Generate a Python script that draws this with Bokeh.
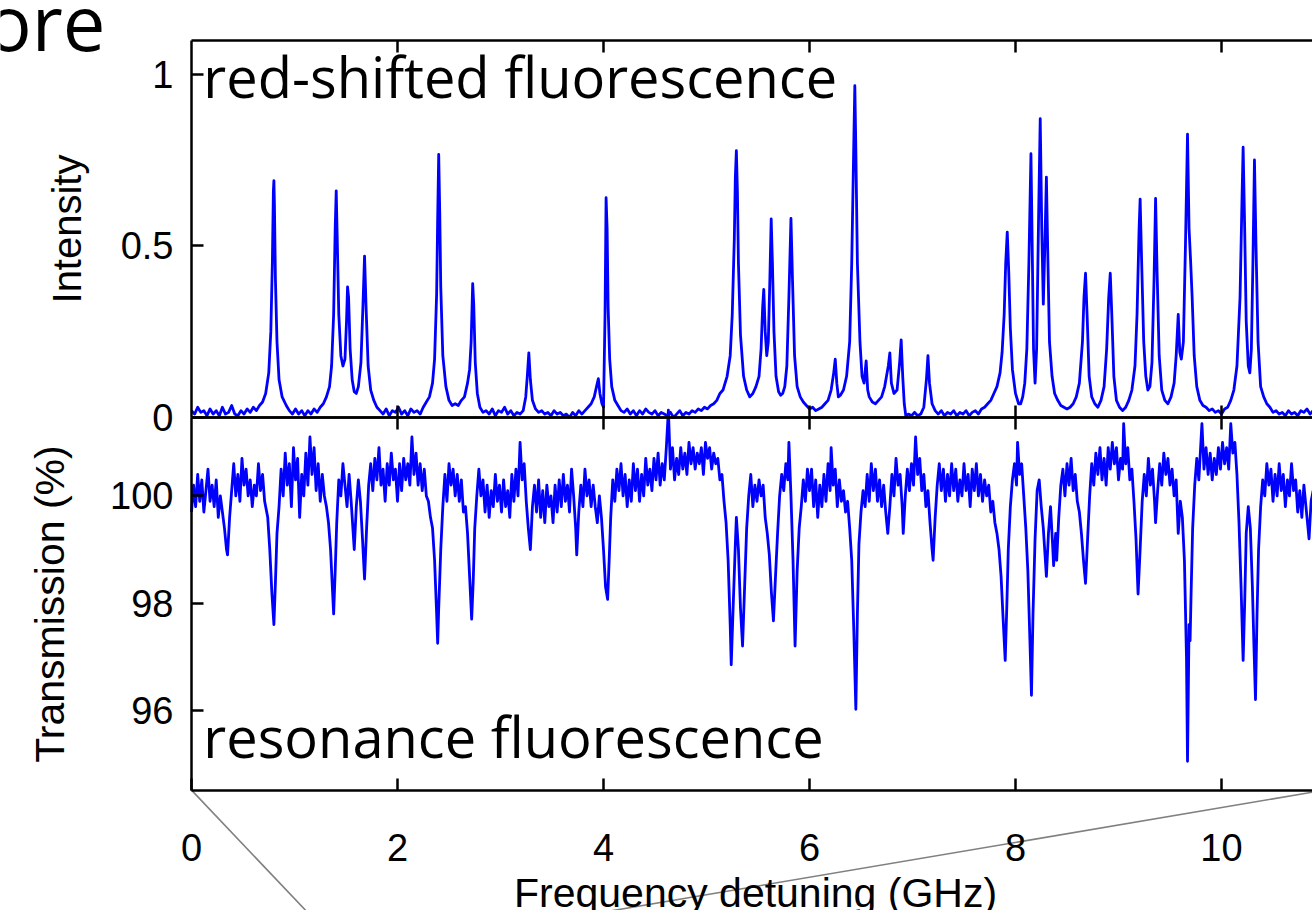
from bokeh.plotting import figure
from bokeh.models import ColumnDataSource, Range1d, LinearAxis, FixedTicker, Label
from bokeh.embed import file_html
from bokeh.resources import INLINE

# ---------------- data ----------------
# red-shifted fluorescence: (frequency detuning GHz, intensity)
redshift_trace = [
    (0.00, .02), (0.03, .01), (0.06, .03), (0.09, .015), (0.12, .02), (0.15, .005), (0.18, .025),
    (0.21, .01), (0.24, .02), (0.27, .005), (0.30, .03), (0.33, .01), (0.36, .015), (0.39, .035),
    (0.42, .01), (0.45, .005), (0.48, .02), (0.51, .01), (0.54, .025), (0.57, .015), (0.60, .03),
    (0.63, .02), (0.66, .035), (0.69, .045),
    (0.72, .07), (0.75, .13), (0.77, .25), (0.785, .45), (0.795, .66), (0.80, .69), (0.805, .62),
    (0.815, .40), (0.83, .22), (0.85, .11), (0.88, .06), (0.92, .035), (0.95, .02),
    (0.98, .01), (1.01, .025), (1.04, .01), (1.07, .02), (1.10, .005), (1.13, .02), (1.16, .01),
    (1.19, .025), (1.22, .015), (1.25, .03), (1.28, .04),
    (1.31, .06), (1.34, .09), (1.36, .15), (1.38, .30), (1.395, .55), (1.405, .66), (1.415, .52),
    (1.43, .30), (1.45, .18), (1.47, .15), (1.49, .17), (1.505, .28), (1.515, .38), (1.525, .35),
    (1.54, .20), (1.56, .11), (1.58, .075), (1.60, .07), (1.62, .09), (1.645, .16), (1.665, .33),
    (1.68, .47), (1.695, .32), (1.715, .15), (1.74, .08), (1.77, .05), (1.80, .03), (1.83, .02),
    (1.86, .01), (1.89, .025), (1.92, .005), (1.95, .02), (1.98, .015), (2.01, .03), (2.04, .01),
    (2.07, .02), (2.10, .005), (2.13, .025), (2.16, .015), (2.19, .02), (2.22, .01), (2.25, .03),
    (2.28, .045),
    (2.31, .06), (2.34, .10), (2.36, .17), (2.38, .36), (2.39, .58), (2.40, .766), (2.41, .60),
    (2.42, .38), (2.44, .18), (2.47, .09), (2.50, .05), (2.53, .035), (2.56, .04), (2.59, .035),
    (2.62, .05), (2.65, .06), (2.68, .10),
    (2.70, .14), (2.715, .22), (2.73, .39), (2.74, .33), (2.755, .16), (2.775, .07), (2.80, .03),
    (2.83, .015),
    (2.86, .02), (2.89, .01), (2.92, .025), (2.95, .005), (2.98, .02), (3.01, .015), (3.04, .03),
    (3.07, .01), (3.10, .02), (3.13, .005), (3.16, .015), (3.19, .01), (3.22, .02), (3.245, .06),
    (3.26, .12), (3.275, .188), (3.29, .11), (3.31, .05), (3.34, .025), (3.37, .015),
    (3.40, .02), (3.43, .01), (3.46, .015), (3.49, .005), (3.52, .02), (3.55, .01), (3.58, .015),
    (3.61, .005), (3.64, .01), (3.67, .0), (3.70, .015), (3.73, .005), (3.76, .02), (3.79, .01),
    (3.82, .02), (3.85, .03), (3.88, .04), (3.91, .06),
    (3.94, .10), (3.95, .113), (3.965, .07), (3.985, .04), (4.00, .03), (4.015, .30), (4.025, .64),
    (4.035, .55), (4.045, .32), (4.06, .17), (4.08, .09), (4.11, .05), (4.14, .035), (4.17, .02),
    (4.20, .015), (4.23, .025), (4.26, .01), (4.29, .02), (4.32, .005), (4.35, .02), (4.38, .01),
    (4.41, .025), (4.44, .015), (4.47, .01), (4.50, .02), (4.53, .005), (4.56, .015), (4.59, .01),
    (4.62, .005), (4.65, .015), (4.68, .0), (4.71, .01), (4.74, .02), (4.77, .005), (4.80, .015),
    (4.83, .01), (4.86, .02), (4.89, .015), (4.92, .025), (4.95, .02), (4.98, .03), (5.01, .025),
    (5.04, .035), (5.07, .04), (5.10, .05), (5.13, .07),
    (5.16, .08), (5.20, .12), (5.23, .18), (5.25, .30), (5.27, .52), (5.28, .70), (5.29, .777),
    (5.30, .66), (5.31, .45), (5.33, .24), (5.36, .12), (5.39, .08), (5.42, .06), (5.45, .07),
    (5.48, .09), (5.51, .12),
    (5.53, .20), (5.545, .32), (5.556, .373), (5.57, .25), (5.585, .18), (5.60, .22), (5.615, .40),
    (5.628, .578), (5.64, .45), (5.655, .25), (5.675, .12), (5.70, .075), (5.72, .065), (5.74, .07),
    (5.76, .09), (5.78, .15), (5.80, .35), (5.82, .58), (5.835, .40), (5.855, .18), (5.88, .09),
    (5.91, .06), (5.94, .045), (5.97, .035), (6.00, .025), (6.03, .03), (6.06, .02), (6.09, .025),
    (6.12, .03), (6.15, .04), (6.18, .05), (6.21, .08),
    (6.235, .13), (6.25, .17), (6.265, .10), (6.28, .06), (6.30, .065), (6.33, .08), (6.36, .12),
    (6.39, .22), (6.41, .45), (6.43, .80), (6.44, .966), (6.45, .78), (6.465, .45), (6.49, .22),
    (6.51, .12), (6.53, .10), (6.55, .165), (6.565, .08), (6.58, .06), (6.61, .045), (6.64, .04),
    (6.67, .05), (6.70, .06), (6.73, .09), (6.765, .15), (6.78, .188), (6.795, .10), (6.82, .07),
    (6.85, .08), (6.875, .16), (6.89, .226), (6.905, .12), (6.92, .04), (6.935, .005), (6.96, .01),
    (6.99, .005), (7.02, .015), (7.05, .005), (7.08, .01), (7.11, .03), (7.135, .11), (7.15, .18),
    (7.165, .10), (7.19, .04), (7.22, .02),
    (7.25, .01), (7.28, .02), (7.31, .005), (7.34, .015), (7.37, .01), (7.40, .02), (7.43, .005),
    (7.46, .015), (7.49, .01), (7.52, .02), (7.55, .005), (7.58, .015), (7.61, .02), (7.64, .01),
    (7.67, .025), (7.70, .03), (7.73, .04), (7.76, .05), (7.79, .07),
    (7.82, .09), (7.85, .13), (7.87, .19), (7.89, .30), (7.905, .45), (7.92, .54), (7.935, .42),
    (7.95, .26), (7.97, .14), (8.00, .07), (8.03, .04), (8.05, .04), (8.07, .06), (8.09, .10),
    (8.11, .20), (8.13, .45), (8.15, .768), (8.16, .55), (8.175, .20), (8.19, .10), (8.205, .20),
    (8.225, .60), (8.24, .87), (8.255, .55), (8.27, .33), (8.285, .50), (8.30, .70), (8.315, .45),
    (8.33, .22), (8.355, .12), (8.38, .07), (8.41, .05), (8.44, .035), (8.47, .03), (8.50, .025),
    (8.53, .03), (8.56, .04), (8.59, .06), (8.62, .10), (8.65, .22), (8.665, .35), (8.68, .42),
    (8.695, .30), (8.715, .12), (8.74, .06), (8.77, .04), (8.80, .03), (8.83, .05), (8.86, .09),
    (8.885, .20), (8.905, .35), (8.92, .42), (8.935, .30), (8.955, .12), (8.98, .05), (9.01, .03),
    (9.04, .02), (9.07, .03), (9.10, .05), (9.13, .08), (9.16, .15), (9.18, .30), (9.20, .55),
    (9.21, .636), (9.225, .45), (9.245, .22), (9.265, .12), (9.285, .08), (9.305, .09), (9.325, .16),
    (9.345, .40), (9.36, .638), (9.375, .42), (9.395, .18), (9.42, .08), (9.45, .05), (9.48, .04),
    (9.51, .06), (9.54, .10), (9.56, .18), (9.58, .30), (9.595, .19), (9.61, .17), (9.63, .22),
    (9.65, .50), (9.67, .825), (9.685, .55), (9.70, .456), (9.715, .35), (9.735, .18), (9.76, .09),
    (9.79, .05), (9.82, .035), (9.85, .03), (9.88, .02), (9.91, .025), (9.94, .015), (9.97, .02),
    (10.00, .01), (10.03, .025), (10.06, .03), (10.09, .05), (10.12, .08), (10.15, .15), (10.18, .35),
    (10.20, .65), (10.21, .787), (10.225, .55), (10.24, .28), (10.26, .15), (10.275, .13), (10.29, .20),
    (10.305, .45), (10.32, .75), (10.335, .50), (10.355, .22), (10.38, .09), (10.41, .06), (10.44, .04),
    (10.47, .03), (10.50, .015), (10.53, .02), (10.56, .01), (10.59, .015), (10.62, .005), (10.65, .02),
    (10.68, .01), (10.71, .015), (10.74, .005), (10.77, .02), (10.80, .015), (10.83, .025), (10.86, .01),
    (10.89, .02),
]

# resonance fluorescence: (frequency detuning GHz, transmission %)
transmission_trace = [
    (0.00, 99.7), (0.02, 100.2), (0.04, 99.8), (0.06, 100.4), (0.08, 99.9), (0.10, 100.3), (0.12, 99.7),
    (0.14, 100.1), (0.16, 100.5), (0.18, 99.9), (0.20, 100.2), (0.22, 99.8), (0.24, 100.3), (0.26, 99.6),
    (0.28, 100.0), (0.30, 99.7), (0.32, 99.4), (0.34, 99.0), (0.35, 98.9), (0.37, 99.6), (0.39, 100.1),
    (0.41, 100.6), (0.43, 100.0), (0.45, 100.4), (0.47, 99.9), (0.49, 100.7), (0.51, 100.2), (0.53, 100.5),
    (0.55, 100.0), (0.57, 100.3), (0.59, 99.8), (0.61, 100.2), (0.63, 100.0), (0.65, 100.6), (0.67, 100.1),
    (0.69, 100.4), (0.71, 99.9), (0.74, 99.6), (0.76, 99.0), (0.78, 98.2), (0.80, 97.6), (0.815, 98.4),
    (0.83, 99.3), (0.85, 99.8), (0.87, 100.5), (0.89, 100.0), (0.91, 100.8), (0.93, 100.2), (0.95, 100.6),
    (0.97, 99.8), (0.99, 100.9), (1.01, 100.3), (1.03, 100.7), (1.05, 99.6), (1.07, 100.4), (1.09, 100.0),
    (1.11, 100.8), (1.13, 100.2), (1.15, 101.1), (1.17, 100.4), (1.19, 100.9), (1.21, 100.1), (1.23, 100.6),
    (1.25, 99.9), (1.27, 100.4), (1.29, 100.0), (1.31, 99.8), (1.33, 99.5), (1.35, 99.0), (1.37, 98.2),
    (1.38, 97.8), (1.395, 98.6), (1.41, 99.5), (1.43, 100.3), (1.45, 100.0), (1.47, 100.6), (1.49, 100.2),
    (1.51, 99.8), (1.53, 100.4), (1.55, 99.9), (1.57, 99.3), (1.58, 99.0), (1.60, 99.8), (1.62, 100.3),
    (1.64, 99.9), (1.66, 99.2), (1.68, 98.45), (1.70, 99.4), (1.72, 100.2), (1.74, 100.6), (1.76, 100.1),
    (1.78, 100.7), (1.80, 100.3), (1.82, 100.9), (1.84, 100.2), (1.86, 100.5), (1.88, 99.9), (1.90, 100.6),
    (1.92, 100.2), (1.94, 100.8), (1.96, 100.3), (1.98, 100.5), (2.00, 99.9), (2.02, 100.6), (2.04, 100.1),
    (2.06, 100.7), (2.08, 100.3), (2.10, 100.6), (2.12, 100.2), (2.14, 101.1), (2.16, 100.4), (2.18, 100.8),
    (2.20, 100.2), (2.22, 100.6), (2.24, 100.1), (2.26, 100.5), (2.28, 100.0), (2.30, 99.9), (2.32, 99.6),
    (2.34, 99.4), (2.36, 98.8), (2.38, 97.8), (2.39, 97.25), (2.40, 97.9), (2.42, 99.0), (2.44, 99.8),
    (2.46, 100.4), (2.48, 99.9), (2.50, 100.6), (2.52, 100.2), (2.54, 100.5), (2.56, 100.0), (2.58, 100.4),
    (2.60, 99.9), (2.62, 100.3), (2.64, 99.7), (2.66, 99.8), (2.68, 99.3), (2.70, 98.5), (2.72, 97.7),
    (2.735, 98.4), (2.75, 99.4), (2.77, 100.0), (2.79, 100.5), (2.81, 100.0), (2.83, 100.3), (2.85, 99.7),
    (2.87, 100.2), (2.89, 99.6), (2.91, 100.1), (2.93, 99.8), (2.95, 100.4), (2.97, 99.9), (2.99, 100.2),
    (3.01, 99.7), (3.03, 100.3), (3.05, 99.8), (3.07, 100.1), (3.09, 99.6), (3.11, 100.4), (3.13, 99.9),
    (3.15, 100.5), (3.17, 100.0), (3.19, 101.0), (3.21, 100.3), (3.23, 100.6), (3.25, 99.9), (3.27, 99.4),
    (3.29, 99.0), (3.31, 99.8), (3.33, 100.2), (3.35, 99.7), (3.37, 100.3), (3.39, 99.6), (3.41, 100.1),
    (3.43, 99.5), (3.45, 100.2), (3.47, 99.8), (3.49, 100.0), (3.51, 99.5), (3.53, 100.2), (3.55, 99.7),
    (3.57, 100.3), (3.59, 99.8), (3.61, 100.4), (3.63, 99.9), (3.65, 100.2), (3.67, 99.7), (3.69, 100.5),
    (3.71, 100.0), (3.73, 99.4), (3.74, 98.9), (3.76, 99.7), (3.78, 100.2), (3.80, 99.8), (3.82, 100.5),
    (3.84, 100.0), (3.86, 100.3), (3.88, 99.8), (3.90, 100.2), (3.92, 99.8), (3.94, 99.5), (3.96, 100.0),
    (3.98, 99.6), (4.00, 99.0), (4.02, 98.3), (4.04, 98.07), (4.055, 98.8), (4.07, 99.6), (4.09, 100.3),
    (4.11, 99.9), (4.13, 100.5), (4.15, 100.1), (4.17, 100.6), (4.19, 100.0), (4.21, 100.4), (4.23, 99.8),
    (4.25, 100.3), (4.27, 99.9), (4.29, 100.6), (4.31, 100.1), (4.33, 100.5), (4.35, 99.9), (4.37, 100.4),
    (4.39, 100.0), (4.41, 100.7), (4.43, 100.2), (4.45, 100.5), (4.47, 100.1), (4.49, 100.7), (4.51, 100.3),
    (4.53, 100.8), (4.55, 100.2), (4.57, 100.6), (4.59, 100.3), (4.61, 100.9), (4.63, 101.6), (4.65, 100.5),
    (4.67, 100.9), (4.69, 100.3), (4.71, 100.7), (4.73, 100.4), (4.75, 100.9), (4.77, 100.5), (4.79, 100.8),
    (4.81, 100.4), (4.83, 101.0), (4.85, 100.6), (4.87, 100.9), (4.89, 100.5), (4.91, 100.8), (4.93, 100.6),
    (4.95, 100.9), (4.97, 100.4), (4.99, 101.0), (5.01, 100.7), (5.03, 100.9), (5.05, 100.5), (5.07, 100.8),
    (5.09, 100.6), (5.11, 100.7), (5.13, 100.3), (5.15, 100.4), (5.17, 99.9), (5.19, 99.5), (5.21, 98.8),
    (5.23, 97.6), (5.24, 96.85), (5.26, 98.0), (5.28, 99.1), (5.29, 99.6), (5.31, 99.0), (5.33, 97.9),
    (5.35, 97.2), (5.37, 98.3), (5.39, 99.4), (5.41, 100.0), (5.43, 100.4), (5.45, 99.8), (5.47, 100.2),
    (5.49, 99.9), (5.51, 100.3), (5.53, 100.0), (5.55, 100.2), (5.57, 99.6), (5.59, 99.3), (5.61, 98.9),
    (5.63, 98.2), (5.65, 97.67), (5.67, 98.5), (5.69, 99.3), (5.71, 100.0), (5.73, 100.4), (5.75, 100.1),
    (5.77, 100.6), (5.79, 100.3), (5.80, 101.0), (5.82, 100.0), (5.84, 98.8), (5.86, 97.2), (5.88, 98.6),
    (5.90, 99.4), (5.92, 99.8), (5.94, 100.3), (5.96, 99.9), (5.98, 100.5), (6.00, 100.1), (6.02, 100.5),
    (6.04, 99.8), (6.06, 100.3), (6.08, 99.6), (6.10, 100.2), (6.12, 99.8), (6.14, 100.4), (6.16, 99.9),
    (6.18, 100.6), (6.20, 100.1), (6.21, 100.9), (6.23, 100.2), (6.25, 100.5), (6.27, 99.8), (6.29, 100.3),
    (6.31, 99.9), (6.33, 100.1), (6.35, 99.7), (6.37, 99.9), (6.39, 99.4), (6.41, 98.8), (6.43, 97.5),
    (6.45, 96.02), (6.465, 97.8), (6.48, 99.1), (6.50, 99.7), (6.52, 100.1), (6.54, 99.8), (6.56, 100.4),
    (6.58, 99.9), (6.60, 100.6), (6.62, 100.1), (6.64, 100.5), (6.66, 99.9), (6.68, 100.3), (6.70, 99.8),
    (6.72, 100.2), (6.74, 99.7), (6.76, 99.3), (6.78, 99.8), (6.80, 100.4), (6.82, 100.0), (6.84, 100.7),
    (6.86, 100.2), (6.88, 100.4), (6.90, 99.8), (6.91, 99.3), (6.93, 100.0), (6.95, 100.5), (6.97, 100.1),
    (6.99, 100.6), (7.01, 100.2), (7.03, 101.1), (7.05, 100.4), (7.07, 100.7), (7.09, 100.1), (7.11, 100.4),
    (7.13, 99.8), (7.15, 100.1), (7.17, 99.5), (7.19, 99.0), (7.20, 98.8), (7.22, 99.6), (7.24, 100.2),
    (7.26, 100.6), (7.28, 100.1), (7.30, 100.5), (7.32, 99.9), (7.34, 100.4), (7.36, 100.0), (7.38, 100.6),
    (7.40, 100.1), (7.42, 100.5), (7.44, 99.9), (7.46, 100.3), (7.48, 100.0), (7.50, 100.6), (7.52, 100.1),
    (7.54, 100.4), (7.56, 99.8), (7.58, 100.5), (7.60, 100.1), (7.62, 100.6), (7.64, 100.0), (7.66, 100.4),
    (7.68, 99.9), (7.70, 100.3), (7.72, 100.0), (7.74, 100.2), (7.76, 99.7), (7.78, 99.9), (7.80, 99.5),
    (7.82, 99.3), (7.84, 99.0), (7.86, 98.5), (7.88, 97.7), (7.90, 96.93), (7.915, 97.9), (7.93, 99.0),
    (7.95, 99.8), (7.97, 100.3), (7.99, 100.6), (8.01, 100.2), (8.02, 101.0), (8.04, 100.4), (8.06, 100.6),
    (8.08, 100.0), (8.10, 99.4), (8.12, 98.6), (8.14, 97.3), (8.155, 96.28), (8.17, 97.8), (8.19, 99.2),
    (8.21, 100.1), (8.23, 100.3), (8.25, 99.8), (8.27, 99.4), (8.29, 98.8), (8.30, 98.5), (8.32, 99.3),
    (8.34, 99.8), (8.36, 99.1), (8.37, 98.7), (8.39, 99.3), (8.40, 98.8), (8.42, 99.6), (8.44, 100.2),
    (8.46, 100.5), (8.48, 100.0), (8.50, 100.6), (8.52, 100.2), (8.54, 100.7), (8.56, 100.1), (8.58, 100.4),
    (8.60, 99.9), (8.62, 99.7), (8.64, 99.3), (8.66, 98.8), (8.68, 98.37), (8.70, 99.2), (8.72, 100.0),
    (8.74, 100.6), (8.76, 100.2), (8.78, 100.8), (8.80, 100.4), (8.82, 100.9), (8.84, 100.3), (8.86, 100.7),
    (8.88, 100.2), (8.90, 100.9), (8.92, 100.5), (8.94, 101.0), (8.96, 100.6), (8.98, 100.9), (9.00, 100.3),
    (9.02, 100.7), (9.04, 100.5), (9.05, 101.35), (9.07, 100.6), (9.09, 100.9), (9.11, 100.3), (9.13, 100.5),
    (9.15, 99.9), (9.17, 99.2), (9.19, 98.17), (9.21, 99.0), (9.23, 99.9), (9.25, 100.4), (9.27, 100.0),
    (9.29, 100.7), (9.31, 100.2), (9.33, 100.5), (9.35, 99.9), (9.36, 99.5), (9.38, 100.1), (9.40, 100.6),
    (9.42, 100.2), (9.44, 100.8), (9.46, 100.4), (9.48, 100.7), (9.50, 100.2), (9.52, 100.5), (9.54, 100.0),
    (9.56, 100.3), (9.58, 99.3), (9.60, 99.9), (9.62, 99.6), (9.64, 98.8), (9.66, 97.0), (9.67, 95.05),
    (9.685, 97.6), (9.695, 97.3), (9.705, 98.2), (9.72, 99.4), (9.74, 100.2), (9.76, 100.7), (9.78, 100.3),
    (9.80, 101.0), (9.81, 101.35), (9.83, 100.5), (9.85, 100.9), (9.87, 100.4), (9.89, 100.8), (9.91, 100.3),
    (9.93, 100.7), (9.95, 100.4), (9.97, 100.9), (9.99, 100.5), (10.01, 101.0), (10.03, 100.6), (10.05, 100.9),
    (10.07, 100.5), (10.09, 101.35), (10.11, 100.8), (10.13, 101.0), (10.15, 100.4), (10.17, 99.5),
    (10.19, 98.3), (10.21, 96.93), (10.225, 98.0), (10.24, 99.3), (10.26, 99.8), (10.28, 99.4), (10.30, 98.3),
    (10.315, 97.2), (10.33, 96.2), (10.345, 97.8), (10.36, 99.0), (10.38, 99.8), (10.40, 100.3), (10.42, 100.0),
    (10.44, 100.6), (10.46, 100.2), (10.48, 100.5), (10.50, 99.9), (10.52, 100.4), (10.54, 100.0), (10.56, 100.6),
    (10.58, 100.1), (10.60, 100.4), (10.62, 99.8), (10.64, 100.3), (10.66, 100.0), (10.68, 100.6), (10.70, 100.1),
    (10.72, 100.3), (10.74, 99.7), (10.76, 100.1), (10.78, 99.6), (10.80, 100.2), (10.82, 99.8), (10.84, 99.4),
    (10.85, 99.2), (10.87, 99.9), (10.89, 100.1),
]

x_ticks = [0, 2, 4, 6, 8, 10]
intensity_ticks = [0, 0.5, 1]
transmission_ticks = [96, 98, 100]

# zoom guide lines (GHz, %) from the lower frame corners down out of the picture
guide_left = [(0.0, 94.51), (1.29, 91.9)]
guide_right = [(11.0, 94.51), (2.97, 91.9)]

# ---------------- panel extents (data units) ----------------
X_VIEW = (-1.8544, 10.8835)        # whole canvas width, axis at 0
T_VIEW = (92.265, 109.243)         # whole canvas height in transmission units
I_VIEW = (-1.4356, 1.2143)         # whole canvas height in intensity units
X_PANEL = (0, 11)
T_PANEL = (94.51, 101.47)          # lower panel
I_PANEL = (0, 1.098)               # upper panel
TOP_EDGE_T = 108.496               # upper frame edge expressed in transmission units

TICK_FONT = "Liberation Sans"
TEXT_FONT = "Open Sans"
BLUE = "#0000ff"

p = figure(width=1312, height=910, x_range=Range1d(*X_VIEW), y_range=Range1d(*T_VIEW),
           output_backend="svg", toolbar_location=None,
           x_axis_location=None, y_axis_location=None,
           min_border=0, min_border_left=0, min_border_right=0, min_border_top=0, min_border_bottom=0)
p.extra_y_ranges = {"int": Range1d(*I_VIEW)}
p.outline_line_color = None
p.xgrid.visible = False
p.ygrid.visible = False
p.background_fill_color = "white"
p.border_fill_color = "white"


def make_axis(show_labels, **kw):
    ax = LinearAxis(**kw)
    ax.axis_line_width = 2.5
    ax.axis_line_color = "black"
    ax.major_tick_line_width = 2.5
    ax.major_tick_line_color = "black"
    ax.major_tick_in = 12
    ax.major_tick_out = 0
    ax.minor_tick_line_color = None
    if show_labels:
        ax.major_label_text_font = TICK_FONT
        ax.major_label_text_font_size = "38px"
        ax.major_label_text_color = "black"
        ax.major_label_standoff = 18
    else:
        ax.major_label_text_color = None
    ax.axis_label_text_font = TICK_FONT
    ax.axis_label_text_font_size = "40px"
    ax.axis_label_text_font_style = "normal"
    ax.axis_label_text_color = "black"
    return ax


# y axes
ax_int = make_axis(True, y_range_name="int", fixed_location=0, bounds=I_PANEL,
                   ticker=FixedTicker(ticks=intensity_ticks), axis_label="Intensity",
                   major_label_overrides={0: "0", 0.5: "0.5", 1: "1"})
ax_int.axis_label_standoff = 29
p.add_layout(ax_int, "left")

ax_tr = make_axis(True, fixed_location=0, bounds=T_PANEL,
                  ticker=FixedTicker(ticks=transmission_ticks), axis_label="Transmission (%)")
ax_tr.axis_label_standoff = 34
ax_tr.axis_label_text_font_size = "41px"
p.add_layout(ax_tr, "left")

# x axes
ax_bottom = make_axis(True, fixed_location=T_PANEL[0], bounds=X_PANEL, ticker=FixedTicker(ticks=x_ticks))
ax_bottom.major_label_standoff = 44
p.add_layout(ax_bottom, "below")
p.add_layout(make_axis(False, fixed_location=T_PANEL[1], bounds=X_PANEL,
                       ticker=FixedTicker(ticks=x_ticks[1:])), "above")
p.add_layout(make_axis(False, fixed_location=T_PANEL[1], bounds=X_PANEL,
                       ticker=FixedTicker(ticks=x_ticks[1:])), "below")
p.add_layout(make_axis(False, fixed_location=TOP_EDGE_T, bounds=X_PANEL,
                       ticker=FixedTicker(ticks=x_ticks[1:])), "above")

# guide lines
for g in (guide_left, guide_right):
    p.line([q[0] for q in g], [q[1] for q in g], line_color="#808080", line_width=1.6)

# traces
src_top = ColumnDataSource(dict(x=[q[0] for q in redshift_trace], y=[q[1] for q in redshift_trace]))
p.line("x", "y", source=src_top, y_range_name="int", line_color=BLUE, line_width=2.8, line_join="round")
src_bot = ColumnDataSource(dict(x=[q[0] for q in transmission_trace], y=[q[1] for q in transmission_trace]))
p.line("x", "y", source=src_bot, line_color=BLUE, line_width=2.8, line_join="round")

# texts
p.add_layout(Label(x=0.115, y=0.993, y_range_name="int", text="red-shifted fluorescence",
                   text_font=TEXT_FONT, text_font_size="56px", text_color="black",
                   text_align="left", text_baseline="middle"))
p.add_layout(Label(x=0.115, y=95.53, text="resonance fluorescence",
                   text_font=TEXT_FONT, text_font_size="56px", text_color="black",
                   text_align="left", text_baseline="middle"))
p.add_layout(Label(x=-0.835, y=1.1546, y_range_name="int", text="ore",
                   text_font=TEXT_FONT, text_font_size="76px", text_color="black",
                   text_align="right", text_baseline="middle"))
p.add_layout(Label(x=5.476, y=92.59, text="Frequency detuning (GHz)",
                   text_font=TICK_FONT, text_font_size="41px", text_color="black",
                   text_align="center", text_baseline="middle"))

open("out.html", "w").write(file_html(p, INLINE))
